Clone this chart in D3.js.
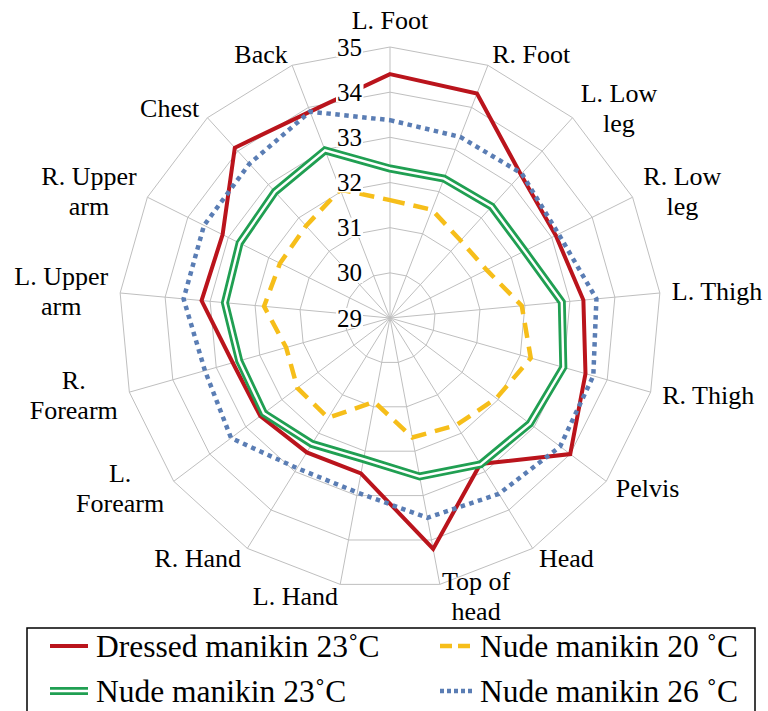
<!DOCTYPE html>
<html>
<head>
<meta charset="utf-8">
<script src="https://cdn.jsdelivr.net/npm/d3@7"></script>
<style>
  html, body { margin: 0; padding: 0; background: #fff; }
  svg { display: block; }
  svg text { font-family: "Liberation Serif", "DejaVu Serif", "Times New Roman", Times, serif; }
</style>
</head>
<body>
<svg id="chart" width="768" height="711"></svg>
<script>
// Body segments, clockwise from the top ("\n" marks a label line break)
const categories = [
  "L. Foot", "R. Foot", "L. Low\nleg", "R. Low\nleg", "L. Thigh", "R. Thigh",
  "Pelvis", "Head", "Top of\nhead", "L. Hand", "R. Hand", "L.\nForearm",
  "R.\nForearm", "L. Upper\narm", "R. Upper\narm", "Chest", "Back"
];

// Radial axis ticks (°C)
const tickValues = [29, 30, 31, 32, 33, 34, 35];

// Skin temperatures (°C) per segment
const dressed23 = [34.40, 34.33, 33.30, 33.10, 33.30, 33.50, 34.00, 32.80, 34.20, 32.50, 32.50, 32.60, 32.62, 33.19, 33.14, 34.10, 33.90];
const nude20    = [31.61, 31.57, 31.32, 31.39, 31.93, 32.24, 31.95, 31.79, 31.69, 30.89, 31.60, 31.57, 31.39, 31.80, 31.72, 31.76, 32.05];
const nude23    = [32.31, 32.31, 32.34, 32.33, 32.82, 32.99, 32.88, 32.81, 32.57, 32.18, 32.28, 32.50, 32.47, 32.67, 32.72, 32.78, 32.98];
const nude26    = [33.38, 33.30, 33.33, 33.17, 33.59, 33.68, 33.72, 33.58, 33.50, 32.93, 32.91, 33.41, 33.26, 33.59, 33.60, 33.62, 33.90];

const seriesNames = ["Dressed manikin 23˚C", "Nude manikin 20 ˚C", "Nude manikin 23˚C", "Nude manikin 26 ˚C"];

// ---- layout ----
const cx = 390, cy = 318, R = 271;
const gridColor = "#BFBFBF";

const styles = [
  { color: "#BA141C", width: 4,   dash: null,      double: false },
  { color: "#F6BE1A", width: 4.5, dash: "15,9",    double: false },
  { color: "#209F52", width: 8,   dash: null,      double: true  },
  { color: "#5A7DB4", width: 4.5, dash: "4.5,4.5", double: false }
];
const seriesData = [dressed23, nude20, nude23, nude26];

const svg = d3.select("#chart");
const r = d3.scaleLinear().domain([tickValues[0], tickValues[tickValues.length - 1]]).range([0, R]);
const n = categories.length;
const ang = d3.scaleLinear().domain([0, n]).range([0, 2 * Math.PI]);

const radial = d3.lineRadial()
  .angle((d, i) => ang(i))
  .radius(d => r(d))
  .curve(d3.curveLinearClosed);

const plot = svg.append("g").attr("transform", `translate(${cx},${cy})`);

// concentric polygon rings
plot.append("g").selectAll("path")
  .data(tickValues.slice(1))
  .join("path")
  .attr("d", v => radial(categories.map(() => v)))
  .attr("fill", "none")
  .attr("stroke", gridColor)
  .attr("stroke-width", 1);

// spokes
const rMax = r(tickValues[tickValues.length - 1]);
plot.append("g").selectAll("line")
  .data(categories)
  .join("line")
  .attr("x1", 0).attr("y1", 0)
  .attr("x2", (d, i) => rMax * Math.sin(ang(i)))
  .attr("y2", (d, i) => -rMax * Math.cos(ang(i)))
  .attr("stroke", gridColor)
  .attr("stroke-width", 1);

// series
const seriesG = plot.append("g");
seriesData.forEach((vals, k) => {
  const st = styles[k];
  const p = seriesG.append("path")
    .attr("d", radial(vals))
    .attr("fill", "none")
    .attr("stroke", st.color)
    .attr("stroke-width", st.width)
    .attr("stroke-linejoin", "miter");
  if (st.dash) p.attr("stroke-dasharray", st.dash);
  if (st.double) {
    seriesG.append("path")
      .attr("d", radial(vals))
      .attr("fill", "none")
      .attr("stroke", "#fff")
      .attr("stroke-width", 2.4)
      .attr("stroke-linejoin", "miter");
  }
});

// radial tick labels, with a white backing box
const tickG = plot.append("g");
tickValues.forEach(v => {
  const t = tickG.append("text")
    .attr("x", -28)
    .attr("y", -r(v) + 8.5)
    .attr("text-anchor", "end")
    .attr("font-size", 25)
    .attr("fill", "#000")
    .text(v);
  const bb = t.node().getBBox();
  tickG.insert("rect", "text")
    .attr("x", bb.x - 1)
    .attr("y", -r(v) - 10)
    .attr("width", bb.width + 2)
    .attr("height", 20)
    .attr("fill", "#fff");
});

// category labels around the outside
const labG = svg.append("g");
const lineH = 30, fs = 26, gap = 12;
categories.forEach((c, i) => {
  const a = ang(i), s = Math.sin(a), co = Math.cos(a);
  const rr = rMax + gap;
  const ax = cx + rr * s, ay = cy - rr * co;
  const lines = c.split("\n");
  const t = labG.append("text")
    .attr("font-size", fs)
    .attr("fill", "#000")
    .attr("text-anchor", "middle");
  const spans = lines.map(l => t.append("tspan").text(l));
  const w = d3.max(spans, sp => sp.node().getComputedTextLength());
  let bx = ax;
  if (s > 0.05) bx = ax + w / 2;
  else if (s < -0.05) bx = ax - w / 2;
  let by = ay;
  if (Math.abs(s) <= 0.05) by = co > 0 ? ay - lineH / 2 : ay + lineH / 2;
  const top = by - (lines.length - 1) * lineH / 2;
  spans.forEach((sp, j) => sp.attr("x", bx).attr("y", top + j * lineH + 0.33 * fs));
});

// legend
const leg = svg.append("g");
leg.append("rect")
  .attr("x", 27).attr("y", 628)
  .attr("width", 728).attr("height", 110)
  .attr("fill", "#fff")
  .attr("stroke", "#000")
  .attr("stroke-width", 1.5);

const legPos = [
  { x: 50,  y: 646 },
  { x: 440, y: 646 },
  { x: 50,  y: 691 },
  { x: 440, y: 691 }
];
seriesNames.forEach((name, k) => {
  const st = styles[k], p = legPos[k];
  const x2 = p.x + (k % 2 === 0 ? 38 : 32);
  const ln = leg.append("line")
    .attr("x1", p.x).attr("y1", p.y)
    .attr("x2", x2).attr("y2", p.y)
    .attr("stroke", st.color)
    .attr("stroke-width", st.width);
  if (st.dash) ln.attr("stroke-dasharray", st.dash === "15,9" ? "12,6" : "4,3");
  if (st.double) {
    leg.append("line")
      .attr("x1", p.x).attr("y1", p.y)
      .attr("x2", x2).attr("y2", p.y)
      .attr("stroke", "#fff")
      .attr("stroke-width", 2.4);
  }
  leg.append("text")
    .attr("x", x2 + 8)
    .attr("y", p.y + 11)
    .attr("font-size", 31.5)
    .attr("fill", "#000")
    .text(name);
});
</script>
</body>
</html>
